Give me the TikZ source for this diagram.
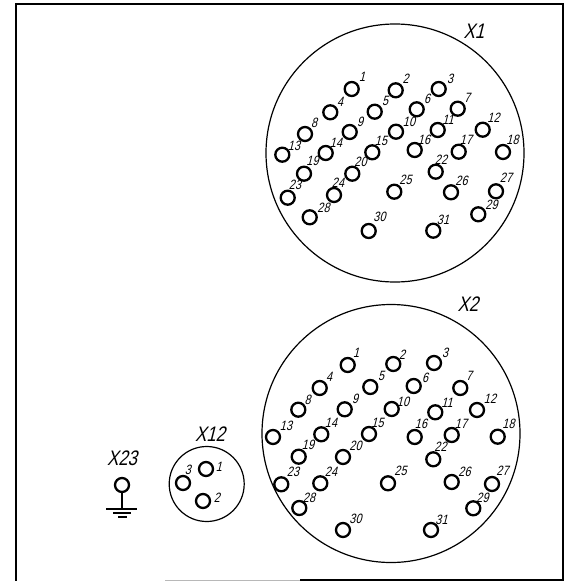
\documentclass[tikz,border=0pt]{standalone}
\usepackage{fontspec}
\setmainfont{Liberation Sans}
\newfontfamily\handfont[FakeStretch=0.8,FakeSlant=0.25]{Liberation Sans}
\definecolor{faint}{gray}{0.72}
\tikzset{
  pin/.style={circle,draw=black,line width=2.3pt,minimum size=14pt,inner sep=0pt,fill=white},
  num/.style={font=\handfont\fontsize{13.5}{14}\selectfont,inner sep=0pt},
  tag/.style={font=\handfont\fontsize{21}{22}\selectfont,inner sep=0pt},
  shell/.style={circle,draw=black,line width=1.2pt,inner sep=0pt},
  border/.style={draw=black,line width=1.8pt},
}
\begin{document}
\begin{tikzpicture}[x=1pt,y=-1pt]
\useasboundingbox (0,0) rectangle (565,581);
\coordinate (fa) at (16,581);
\coordinate (fb) at (16,4);
\coordinate (fc) at (563,4);
\coordinate (fd) at (563,580);
\coordinate (fe) at (300,580);
\coordinate (ff) at (165,580);
\draw[border] (fa) -- (fb) -- (fc) -- (fd) -- (fe);
\draw[draw=faint,line width=1pt] (fe) -- (ff);
\node[shell,minimum size=258pt] (x1) at (395,153) {};
\node[shell,minimum size=258pt] (x2) at (391,433.5) {};
\node[shell,minimum size=75pt] (x12) at (206.7,484) {};
\node[tag] (lx1) at (474,31) {X1};
\node[tag] (lx2) at (468,304) {X2};
\node[tag] (lx12) at (210,434) {X12};
\node[tag] (lx23) at (122,458) {X23};
\node[pin] (g) at (122,485) {};
\coordinate (g1) at (122,509);
\draw[line width=2.4pt] (g) -- (g1);
\coordinate (a1) at (106,509); \coordinate (a2) at (137,509);
\coordinate (b1) at (113,513); \coordinate (b2) at (131,513);
\coordinate (c1) at (118,517); \coordinate (c2) at (127,517);
\draw[line width=2.1pt] (a1) -- (a2);
\draw[line width=2.1pt] (b1) -- (b2);
\draw[line width=2.1pt] (c1) -- (c2);
\node[pin] (c3p1) at (206,469) {}; \node[num] (c3n1) at (219,467) {1};
\node[pin] (c3p2) at (203,501) {}; \node[num] (c3n2) at (217,498) {2};
\node[pin] (c3p3) at (183,483) {}; \node[num] (c3n3) at (188,470) {3};
\foreach \n/\x/\y/\lx/\ly in {
1/351.7/89/362/77, 2/395.7/90.3/405.5/79, 3/438.7/89/450/79,
4/330.3/112.3/340/102, 5/374.7/111.7/385/101, 6/416.7/109.3/427/99, 7/457.7/108.7/467/98,
8/305/134/314/123, 9/349.7/132/360/122, 10/396/131.7/409/122, 11/437.7/130/448/120, 12/482.7/129.7/493.5/118,
13/282.3/154.7/294/146, 14/325.7/153/336/143, 15/372.3/152.3/381/141, 16/414.7/150/424/140, 17/458.7/151.7/466/139.5, 18/503/152/512.5/139.5,
19/304/173.7/312.5/161, 20/352.3/173.7/360.5/162, 22/435.7/171.7/441/159.5,
23/287.7/197.7/295/185, 24/334/195/338/183, 25/394.3/191.7/405.5/180, 26/451/192.3/461.5/181, 27/496/191.3/506/177.5,
28/309.7/217.3/323.5/208, 29/478.3/214.3/491.5/205, 30/368.7/231/379.5/217, 31/433.3/230.7/443/220
}{
  \node[pin] (p\n) at (\x,\y) {};
  \node[num] (n\n) at (\lx,\ly) {\n};
}
\foreach \n/\x/\y/\lx/\ly in {
1/347.7/365/356/353, 2/393.3/364/402/355, 3/434/363/445/353,
4/319.7/388/329/377, 5/370.3/387/381/376, 6/413.7/386/425/378, 7/460.3/388/469/376,
8/298.3/409.7/307.5/400, 9/344.7/409.3/355/399, 10/391.7/409/403/402, 11/435.3/412.3/447/403, 12/477/410/490/399,
13/273/437/286/426, 14/321.3/434.3/331/423, 15/369/434/377.5/422.5, 16/414.7/437/421/424, 17/451.7/435/461/424, 18/497.7/436.7/508.5/424,
19/298.7/456.7/308/445, 20/343/457/355.5/446, 22/433.3/459.3/440.5/447,
23/281.3/484.3/293/472, 24/320.3/483.3/331/472, 25/388/483.3/400.5/470.5, 26/451.7/482/464.5/472, 27/492/484/502.5/470.5,
28/299.3/508/309/497.5, 29/473.3/508.3/482.5/497.5, 30/343/530/355.5/518.5, 31/431/530/441.5/520
}{
  \node[pin] (q\n) at (\x,\y) {};
  \node[num] (m\n) at (\lx,\ly) {\n};
}
\end{tikzpicture}
\end{document}
